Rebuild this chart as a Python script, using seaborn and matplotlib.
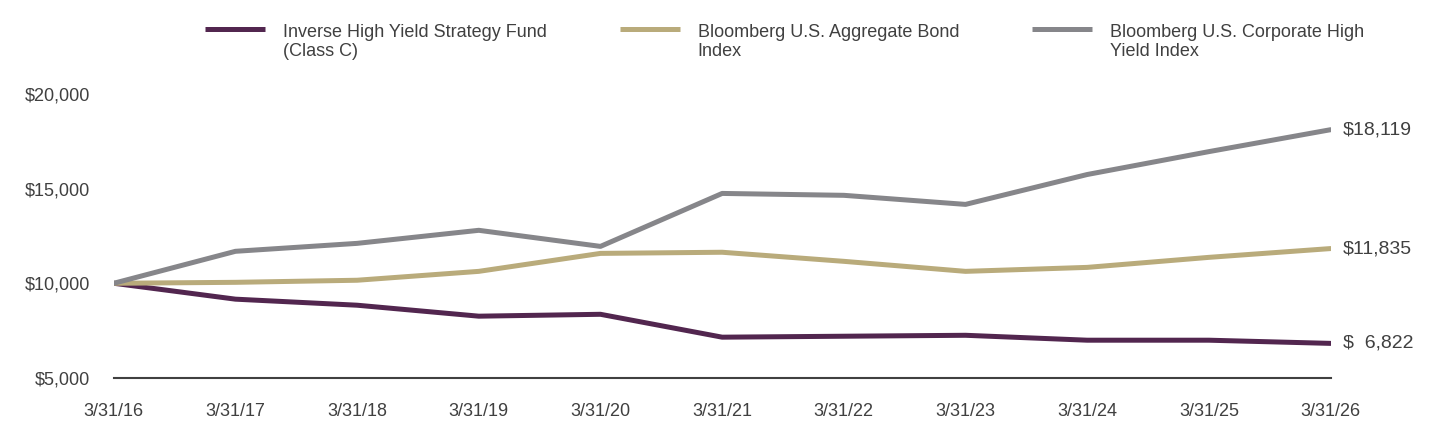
import pandas as pd
import numpy as np
import matplotlib.pyplot as plt
import seaborn as sns
from matplotlib.legend_handler import HandlerLine2D

dates = ['3/31/16', '3/31/17', '3/31/18', '3/31/19', '3/31/20', '3/31/21',
         '3/31/22', '3/31/23', '3/31/24', '3/31/25', '3/31/26']
fund = [10000, 9160, 8840, 8260, 8360, 7150, 7200, 7250, 6990, 6990, 6822]
agg = [10000, 10050, 10160, 10630, 11580, 11640, 11160, 10630, 10840, 11370, 11835]
hy = [10000, 11690, 12110, 12800, 11950, 14750, 14650, 14170, 15750, 16960, 18119]
names = ['Inverse High Yield Strategy Fund\n(Class C)',
         'Bloomberg U.S. Aggregate Bond\nIndex',
         'Bloomberg U.S. Corporate High\nYield Index']
end_labels = ['$  6,822', '$11,835', '$18,119']
colors = ['#52264f', '#b9ab7b', '#86868a']

sns.set_style('white')
plt.rcParams['font.family'] = ['Liberation Sans', 'DejaVu Sans']
text_color = '#404040'


class TopLineHandler(HandlerLine2D):
    # put the legend line next to the first text line instead of the middle
    def create_artists(self, legend, orig_handle, xdescent, ydescent,
                       width, height, fontsize, trans):
        arts = super().create_artists(legend, orig_handle, xdescent,
                                      ydescent - 19, width, height, fontsize, trans)
        for a in arts:
            a.set_solid_capstyle('butt')
        return arts


df = pd.DataFrame({
    'x': list(range(len(dates))) * 3,
    'value': fund + agg + hy,
    'series': [names[0]] * len(dates) + [names[1]] * len(dates) + [names[2]] * len(dates),
})

fig = plt.figure(figsize=(14.4, 4.44), dpi=100)
ax = fig.add_axes([0.079, 0.149, 0.845, 0.639])

sns.lineplot(data=df, x='x', y='value', hue='series', palette=colors,
             linewidth=3.6, ax=ax, legend=True)

# end-of-line value labels
for vals, lab in zip([fund, agg, hy], end_labels):
    ax.annotate(lab, xy=(len(dates) - 1, vals[-1]), xytext=(9, 0),
                textcoords='offset points', va='center', ha='left',
                fontsize=14, color=text_color)

ax.set_xlim(0, len(dates) - 1)
ax.set_ylim(5000, 20000)
ax.set_yticks([5000, 10000, 15000, 20000])
ax.set_yticklabels(['$5,000', '$10,000', '$15,000', '$20,000'])
ax.set_xticks(range(len(dates)))
ax.set_xticklabels(dates)
ax.tick_params(axis='y', length=0, pad=17, labelsize=13, labelcolor=text_color)
ax.tick_params(axis='x', length=0, pad=18, labelsize=13, labelcolor=text_color)
ax.set_xlabel('')
ax.set_ylabel('')
for s in ['top', 'right', 'left']:
    ax.spines[s].set_visible(False)
ax.spines['bottom'].set_color('#404040')
ax.spines['bottom'].set_linewidth(1.5)

handles, labels = ax.get_legend_handles_labels()
ax.legend_.remove()
fig.legend(handles, labels, loc='center left', bbox_to_anchor=(0.1314, 0.905),
           ncol=3, frameon=False, fontsize=13, handlelength=3.3,
           handletextpad=1.0, columnspacing=4.05, labelcolor=text_color,
           handler_map={h: TopLineHandler() for h in handles})

plt.savefig('out.png', dpi=100)
